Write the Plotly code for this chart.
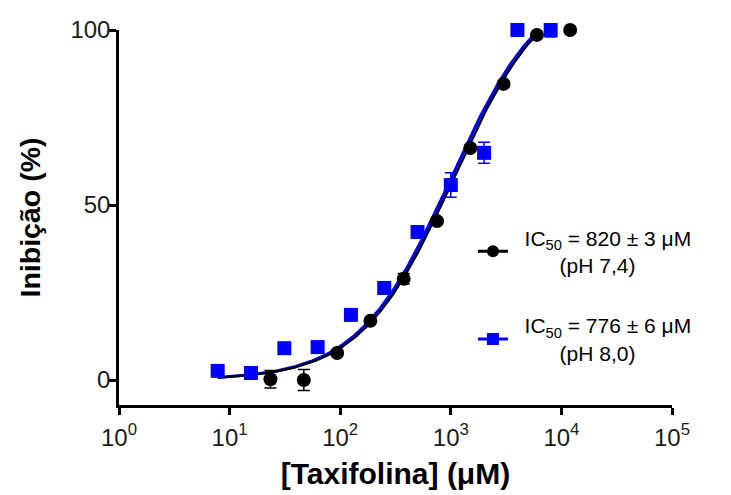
import numpy as np
import plotly.graph_objects as go

# Taxifolin concentration series (µM) and % inhibition at each pH
conc_ph74 = [23.4, 46.9, 93.8, 187.5, 375, 750, 1500, 3000, 6000, 12000]
inhib_ph74 = [0.2, 0.0, 7.7, 16.9, 28.9, 45.4, 66.3, 84.6, 98.6, 100.0]
err_ph74 = [2.5, 3.0, 0.0, 0.0, 1.5, 0.0, 0.0, 0.0, 0.0, 0.0]

conc_ph80 = [7.8, 15.6, 31.25, 62.5, 125, 250, 500, 1000, 2000, 4000, 8000]
inhib_ph80 = [2.6, 2.0, 9.1, 9.4, 18.6, 26.3, 42.3, 55.7, 64.9, 100.0, 100.0]
err_ph80 = [0.0, 0.0, 0.0, 0.0, 0.0, 0.0, 1.0, 3.5, 3.0, 0.0, 2.0]

# Fitted dose-response parameters
ic50_ph74 = 820
ic50_ph80 = 776
hill_slope = 1.04
top = 115.0

x_ticks = [1, 10, 100, 1000, 10000, 100000]
x_ticktext = ["10<sup>0</sup>", "10<sup>1</sup>", "10<sup>2</sup>",
              "10<sup>3</sup>", "10<sup>4</sup>", "10<sup>5</sup>"]
y_ticks = [0, 50, 100]

FONT = "Arial, Liberation Sans, sans-serif"


def dose_response(conc, ic50):
    # logEC places the 50 % crossing of the curve at the reported IC50
    log_ec = np.log10(ic50) + np.log10(top / 50.0 - 1.0) / hill_slope
    return top / (1.0 + 10 ** ((log_ec - np.log10(conc)) * hill_slope))


xs = np.logspace(np.log10(7.8), np.log10(8000), 300)

fig = go.Figure()

for ic50, color, width in [(ic50_ph80, "#0000ff", 3), (ic50_ph74, "#000000", 2.4)]:
    fig.add_trace(go.Scatter(
        x=xs, y=dose_response(xs, ic50), mode="lines",
        line=dict(color=color, width=width), showlegend=False,
        hoverinfo="skip",
    ))

fig.add_trace(go.Scatter(
    x=conc_ph80, y=inhib_ph80, mode="markers",
    marker=dict(symbol="square", size=14, color="#0000ff"),
    error_y=dict(type="data", array=err_ph80, color="#0000ff",
                 thickness=1.5, width=6),
    cliponaxis=False, showlegend=False,
))
fig.add_trace(go.Scatter(
    x=conc_ph74, y=inhib_ph74, mode="markers",
    marker=dict(symbol="circle", size=14, color="#000000"),
    error_y=dict(type="data", array=err_ph74, color="#000000",
                 thickness=1.5, width=6),
    cliponaxis=False, showlegend=False,
))

# Legend keys
nb = "\u00a0"
fig.add_trace(go.Scatter(
    x=[None], y=[None], mode="lines+markers",
    line=dict(color="#000000", width=3),
    marker=dict(symbol="circle", size=12, color="#000000"),
    name=nb * 2 + "IC<sub>50</sub> = 820 ± 3 μM<br>" + nb * 8 + "(pH 7,4)",
    legendgroup="a",
))
fig.add_trace(go.Scatter(
    x=[None], y=[None], mode="lines+markers",
    line=dict(color="#0000ff", width=3),
    marker=dict(symbol="square", size=12, color="#0000ff"),
    name=nb * 2 + "IC<sub>50</sub> = 776 ± 6 μM<br>" + nb * 8 + "(pH 8,0)",
    legendgroup="b",
))

fig.update_layout(
    width=731, height=495,
    margin=dict(l=119, r=59, t=30, b=90),
    paper_bgcolor="white", plot_bgcolor="white",
    font=dict(family=FONT, color="#000000"),
    legend=dict(
        x=0.64, y=0.5, xanchor="left", yanchor="top",
        font=dict(size=21, color="#000000", family=FONT),
        tracegroupgap=30, bgcolor="rgba(0,0,0,0)",
    ),
    xaxis=dict(
        type="log", range=[0, 5], automargin=False,
        tickvals=x_ticks, ticktext=x_ticktext,
        showline=True, linecolor="#000000", linewidth=2.5,
        ticks="outside", ticklen=7, tickwidth=2.5, tickcolor="#000000",
        tickfont=dict(size=24, family=FONT, color="#1a1a1a"),
        ticklabelstandoff=2,
        showgrid=False, zeroline=False,
        title=dict(text="<b>[Taxifolina] (μM)</b>",
                   font=dict(size=30, family=FONT, color="#000000"),
                   standoff=14),
    ),
    yaxis=dict(
        range=[-7.14, 100], automargin=False,
        tickvals=y_ticks,
        showline=True, linecolor="#000000", linewidth=2.5,
        ticks="outside", ticklen=7, tickwidth=2.5, tickcolor="#000000",
        tickfont=dict(size=24, family=FONT, color="#1a1a1a"),
        ticklabelstandoff=-6,
        showgrid=False, zeroline=False,
        title=dict(text="<b>Inibição (%)</b>",
                   font=dict(size=28.5, family=FONT, color="#000000"),
                   standoff=22),
    ),
)

fig.write_html("out.html")
